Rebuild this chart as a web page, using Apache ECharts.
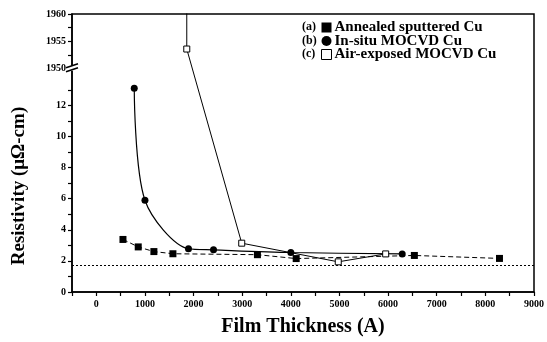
<!DOCTYPE html>
<html>
<head>
<meta charset="utf-8">
<script src="https://cdn.jsdelivr.net/npm/echarts@6/dist/echarts.min.js"></script>
<style>
html, body { margin: 0; padding: 0; background: #fff; }
#graph { width: 547px; height: 342px; }
</style>
</head>
<body>
<div id="graph"></div>
<script>
"use strict"

// film thickness (A) / resistivity (uOhm-cm)
const thickA = [548, 862, 1184, 1575, 3313, 4110, 6540, 8290];
const resA = [3.38, 2.9, 2.6, 2.46, 2.4, 2.15, 2.35, 2.16];
const thickB = [780, 1000, 1895, 2410, 4000, 6290];
const resB = [13.1, 5.9, 2.78, 2.71, 2.54, 2.45];
// first value is off the top of the chart (the line leaves through the top border)
const thickC = [1860, 1860, 2990, 4975, 5950];
const resC = [1965, 1953.6, 3.14, 1.94, 2.45];
const bulkRes = 1.7;

const names = ["Annealed sputtered Cu", "In-situ MOCVD Cu", "Air-exposed MOCVD Cu"];
const tags = ["(a)", "(b)", "(c)"];
const xLabels = [0, 1000, 2000, 3000, 4000, 5000, 6000, 7000, 8000, 9000];
const yLowLabels = [0, 2, 4, 6, 8, 10, 12];
const yHighLabels = [1950, 1955, 1960];
const yLowMinor = [1, 3, 5, 7, 9, 11, 13];
const yHighMinor = [1952.5, 1957.5];

// broken y axis: 0..BREAK_AT linear, then 1950..1960 squeezed above it
const BREAK_AT = 14.36, UPPER_MIN = 1950, UPPER_SCALE = 0.352;
const toDisp = v => v >= UPPER_MIN ? BREAK_AT + (v - UPPER_MIN) * UPPER_SCALE : v;
const fromDisp = v => v > BREAK_AT - 0.01 ? UPPER_MIN + (v - BREAK_AT) / UPPER_SCALE : v;
const yMax = toDisp(1960);

const font = "'Liberation Serif', 'Times New Roman', serif";
const pairs = (xs, ys) => xs.map((x, i) => [x, toDisp(ys[i])]);

const myChart = echarts.init(document.getElementById("graph"), null, { renderer: "canvas" });

const option = {
    animation: false,
    backgroundColor: "#fff",
    textStyle: { fontFamily: font, fontWeight: "bold", color: "#000" },
    grid: { left: 72, right: 11, top: 14, bottom: 49, show: true, borderColor: "#000", borderWidth: 1.5 },
    legend: {
        orient: "vertical",
        left: 321,
        top: 20,
        padding: 0,
        itemWidth: 10,
        itemHeight: 10,
        itemGap: -1.5,
        textStyle: { fontFamily: font, fontWeight: "bold", fontSize: 15, color: "#000", padding: [0, 0, 0, -2] },
        data: [
            { name: names[0], icon: "rect", itemStyle: { color: "#000" } },
            { name: names[1], icon: "circle", itemStyle: { color: "#000" } },
            { name: names[2], icon: "rect", itemStyle: { color: "#fff", borderColor: "#000", borderWidth: 1 } }
        ]
    },
    xAxis: {
        type: "value",
        min: -500,
        max: 9000,
        interval: 500,
        name: "Film Thickness (A)",
        nameLocation: "middle",
        nameGap: 25,
        nameTextStyle: { fontFamily: font, fontWeight: "bold", fontSize: 20, color: "#000" },
        axisLine: { onZero: false, lineStyle: { color: "#000", width: 1.5 } },
        axisTick: { length: 4, lineStyle: { color: "#000", width: 1.2 } },
        axisLabel: {
            fontFamily: font, fontWeight: "bold", fontSize: 10, color: "#000", margin: 7,
            formatter: v => xLabels.includes(v) ? String(v) : ""
        },
        splitLine: { show: false }
    },
    yAxis: {
        type: "value",
        min: 0,
        max: yMax,
        name: "Resistivity (μΩ-cm)",
        nameLocation: "middle",
        nameGap: 43,
        nameTextStyle: { fontFamily: font, fontWeight: "bold", fontSize: 19, color: "#000", padding: [0, 66, 0, 0] },
        axisLine: { onZero: false, lineStyle: { color: "#000", width: 1.5 } },
        axisTick: {
            length: 4,
            lineStyle: { color: "#000", width: 1.2 },
            customValues: yLowLabels.concat(yLowMinor).concat(yHighLabels.concat(yHighMinor).map(toDisp))
        },
        axisLabel: {
            fontFamily: font, fontWeight: "bold", fontSize: 10, color: "#000", margin: 6,
            customValues: yLowLabels.concat(yHighLabels.map(toDisp)),
            formatter: v => String(Math.round(fromDisp(v)))
        },
        splitLine: { show: false }
    },
    series: [
        {
            name: names[0],
            type: "line",
            data: pairs(thickA, resA),
            symbol: "rect",
            symbolSize: 7,
            itemStyle: { color: "#000" },
            lineStyle: { color: "#000", width: 1, type: [5, 3] },
            markLine: {
                silent: true,
                symbol: "none",
                label: { show: false },
                lineStyle: { color: "#000", width: 1.2, type: [2, 2] },
                data: [{ yAxis: bulkRes }]
            }
        },
        {
            name: names[1],
            type: "line",
            data: pairs(thickB, resB),
            symbol: "circle",
            symbolSize: 7,
            smooth: 0.3,
            itemStyle: { color: "#000" },
            lineStyle: { color: "#000", width: 1.2 }
        },
        {
            name: names[2],
            type: "line",
            data: pairs(thickC, resC),
            clip: true,
            symbol: "rect",
            symbolSize: 6,
            itemStyle: { color: "#fff", borderColor: "#000", borderWidth: 1 },
            lineStyle: { color: "#000", width: 1 }
        }
    ]
};
myChart.setOption(option);

// break mark on the y axis and the (a)/(b)/(c) tags left of the legend
const [bx, by] = myChart.convertToPixel({ gridIndex: 0 }, [-500, BREAK_AT]);
myChart.setOption({
    graphic: [
        { type: "rect", shape: { x: bx - 5, y: by - 3, width: 10, height: 5 }, style: { fill: "#fff" }, z: 100 },
        { type: "line", shape: { x1: bx - 6, y1: by - 1, x2: bx + 6, y2: by - 5 }, style: { stroke: "#000", lineWidth: 1.5 }, z: 101 },
        { type: "line", shape: { x1: bx - 6, y1: by + 3, x2: bx + 6, y2: by - 1 }, style: { stroke: "#000", lineWidth: 1.5 }, z: 101 }
    ].concat(tags.map((t, i) => ({
        type: "text",
        left: 302,
        top: 21 + i * 13.5,
        style: { text: t, font: "bold 12px " + font, fill: "#000" },
        z: 100
    })))
});
</script>
</body>
</html>
